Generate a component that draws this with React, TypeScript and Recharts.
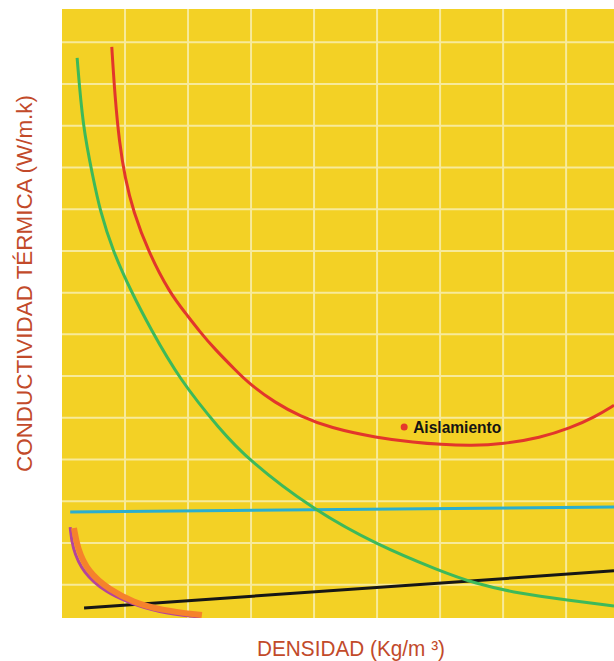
import React from "react";
import {
  LineChart,
  Line,
  XAxis,
  YAxis,
  CartesianGrid,
  ReferenceDot,
} from "recharts";

// x = density (grid units), y = thermal conductivity (grid units)
const redCurve = [
  { x: 0.79, y: 12.89 },
  { x: 0.84, y: 11.7 },
  { x: 0.91, y: 10.6 },
  { x: 1.0, y: 9.75 },
  { x: 1.13, y: 8.95 },
  { x: 1.37, y: 7.98 },
  { x: 1.71, y: 6.99 },
  { x: 1.97, y: 6.49 },
  { x: 2.19, y: 6.06 },
  { x: 2.41, y: 5.67 },
  { x: 2.78, y: 5.1 },
  { x: 2.98, y: 4.81 },
  { x: 3.38, y: 4.36 },
  { x: 3.78, y: 4.04 },
  { x: 4.25, y: 3.76 },
  { x: 5.0, y: 3.52 },
  { x: 5.6, y: 3.41 },
  { x: 6.0, y: 3.36 },
  { x: 6.5, y: 3.33 },
  { x: 7.0, y: 3.37 },
  { x: 7.59, y: 3.52 },
  { x: 8.06, y: 3.75 },
  { x: 8.46, y: 4.02 },
  { x: 8.76, y: 4.3 },
];

const greenCurve = [
  { x: 0.24, y: 12.63 },
  { x: 0.33, y: 10.97 },
  { x: 0.49, y: 9.78 },
  { x: 0.6, y: 8.98 },
  { x: 0.81, y: 7.98 },
  { x: 1.11, y: 6.99 },
  { x: 1.4, y: 6.15 },
  { x: 1.86, y: 4.93 },
  { x: 2.51, y: 3.71 },
  { x: 2.96, y: 2.99 },
  { x: 3.94, y: 1.84 },
  { x: 5.0, y: 0.95 },
  { x: 6.0, y: 0.33 },
  { x: 6.52, y: 0.04 },
  { x: 7.27, y: -0.22 },
  { x: 8.02, y: -0.37 },
  { x: 8.76, y: -0.51 },
];

const cyanLine = [
  { x: 0.13, y: 1.74 },
  { x: 8.76, y: 1.86 },
];

const blackLine = [
  { x: 0.35, y: -0.56 },
  { x: 8.76, y: 0.33 },
];

const purpleCurve = [
  { x: 0.13, y: 1.38 },
  { x: 0.16, y: 0.9 },
  { x: 0.33, y: 0.28 },
  { x: 0.71, y: -0.2 },
  { x: 1.08, y: -0.44 },
  { x: 1.51, y: -0.66 },
  { x: 2.19, y: -0.78 },
];

const orangeCurve = [
  { x: 0.19, y: 1.36 },
  { x: 0.24, y: 0.9 },
  { x: 0.41, y: 0.3 },
  { x: 0.76, y: -0.13 },
  { x: 1.13, y: -0.42 },
  { x: 1.56, y: -0.61 },
  { x: 2.22, y: -0.73 },
];

const xDomain = [0, 8.76];
const yDomain = [-0.8, 13.8];
const xTicks = [1, 2, 3, 4, 5, 6, 7, 8];
const yTicks = [0, 1, 2, 3, 4, 5, 6, 7, 8, 9, 10, 11, 12, 13];
const marker = { x: 5.43, y: 3.78, label: "Aislamiento" };

const xTitle = "DENSIDAD (Kg/m \u00B3)";
const yTitle = "CONDUCTIVIDAD  TÉRMICA (W/m.k)";

const titleColor = "#C24A2A";
const titleFont = "'Liberation Sans Narrow', 'Liberation Sans', Arial, sans-serif";

const applyScale = (s: any, t: number) => {
  if (typeof s === "function") return s(t);
  if (s && typeof s.map === "function") return s.map(t);
  return null;
};

// grid follows the axis scales
const vGen = (p: any) => {
  const s = p.xAxis && p.xAxis.scale;
  const first = applyScale(s, xTicks[0]);
  if (typeof first === "number" && !isNaN(first)) return xTicks.map((t) => applyScale(s, t));
  const o = p.offset;
  return xTicks.map((t) => o.left + ((t - xDomain[0]) / (xDomain[1] - xDomain[0])) * o.width);
};
const hGen = (p: any) => {
  const s = p.yAxis && p.yAxis.scale;
  const first = applyScale(s, yTicks[0]);
  if (typeof first === "number" && !isNaN(first)) return yTicks.map((t) => applyScale(s, t));
  const o = p.offset;
  return yTicks.map((t) => o.top + ((yDomain[1] - t) / (yDomain[1] - yDomain[0])) * o.height);
};

const XTitle = (props: any) => {
  const vb = props.viewBox;
  return (
    <text
      x={vb.x + vb.width / 2 + 13}
      y={vb.y + 38}
      textAnchor="middle"
      fill={titleColor}
      fontFamily={titleFont}
      fontSize={22}
      textLength={188}
      lengthAdjust="spacingAndGlyphs"
    >
      {xTitle}
    </text>
  );
};

const YTitle = (props: any) => {
  const vb = props.viewBox;
  const cx = 32;
  const cy = vb.y + vb.height / 2 - 30;
  return (
    <text
      x={cx}
      y={cy}
      transform={`rotate(-90, ${cx}, ${cy})`}
      textAnchor="middle"
      fill={titleColor}
      fontFamily={titleFont}
      fontSize={22}
      textLength={377}
      lengthAdjust="spacingAndGlyphs"
    >
      {yTitle}
    </text>
  );
};

const MarkerShape = (props: any) => {
  const { cx, cy } = props;
  return (
    <g>
      <circle cx={cx} cy={cy} r={3.5} fill="#E5392C" />
      <text
        x={cx + 9}
        y={cy + 6}
        fill="#141414"
        fontFamily={titleFont}
        fontWeight="bold"
        fontSize={17}
        textLength={88}
        lengthAdjust="spacingAndGlyphs"
      >
        {marker.label}
      </text>
    </g>
  );
};

export default function App() {
  return (
    <div style={{ position: "absolute", left: 0, top: 0, background: "#fff" }}>
      <LineChart
        width={614}
        height={661}
        margin={{ top: 9, right: 0, bottom: 0, left: 0 }}
      >
        <CartesianGrid
          fill="#F3D125"
          stroke="#F7EA9A"
          strokeWidth={2}
          verticalCoordinatesGenerator={vGen}
          horizontalCoordinatesGenerator={hGen}
        />
        <XAxis
          type="number"
          dataKey="x"
          domain={xDomain}
          ticks={xTicks}
          allowDataOverflow
          height={43}
          tick={false}
          tickLine={false}
          axisLine={false}
          label={{ content: XTitle }}
        />
        <YAxis
          type="number"
          dataKey="y"
          domain={yDomain}
          ticks={yTicks}
          allowDataOverflow
          width={62}
          tick={false}
          tickLine={false}
          axisLine={false}
          label={{ content: YTitle }}
        />
        <Line
          data={cyanLine}
          dataKey="y"
          type="linear"
          stroke="#2AAED0"
          strokeWidth={3}
          dot={false}
          isAnimationActive={false}
        />
        <Line
          data={blackLine}
          dataKey="y"
          type="linear"
          stroke="#161616"
          strokeWidth={3}
          dot={false}
          isAnimationActive={false}
        />
        <Line
          data={greenCurve}
          dataKey="y"
          type="basis"
          stroke="#3DB95A"
          strokeWidth={3}
          dot={false}
          isAnimationActive={false}
        />
        <Line
          data={redCurve}
          dataKey="y"
          type="basis"
          stroke="#E2362B"
          strokeWidth={3}
          dot={false}
          isAnimationActive={false}
        />
        <Line
          data={purpleCurve}
          dataKey="y"
          type="basis"
          stroke="#B5449C"
          strokeWidth={3}
          dot={false}
          isAnimationActive={false}
        />
        <Line
          data={orangeCurve}
          dataKey="y"
          type="basis"
          stroke="#F6822B"
          strokeWidth={6}
          dot={false}
          isAnimationActive={false}
        />
        <ReferenceDot
          x={marker.x}
          y={marker.y}
          r={3.5}
          shape={MarkerShape}
          ifOverflow="visible"
        />
      </LineChart>
    </div>
  );
}
